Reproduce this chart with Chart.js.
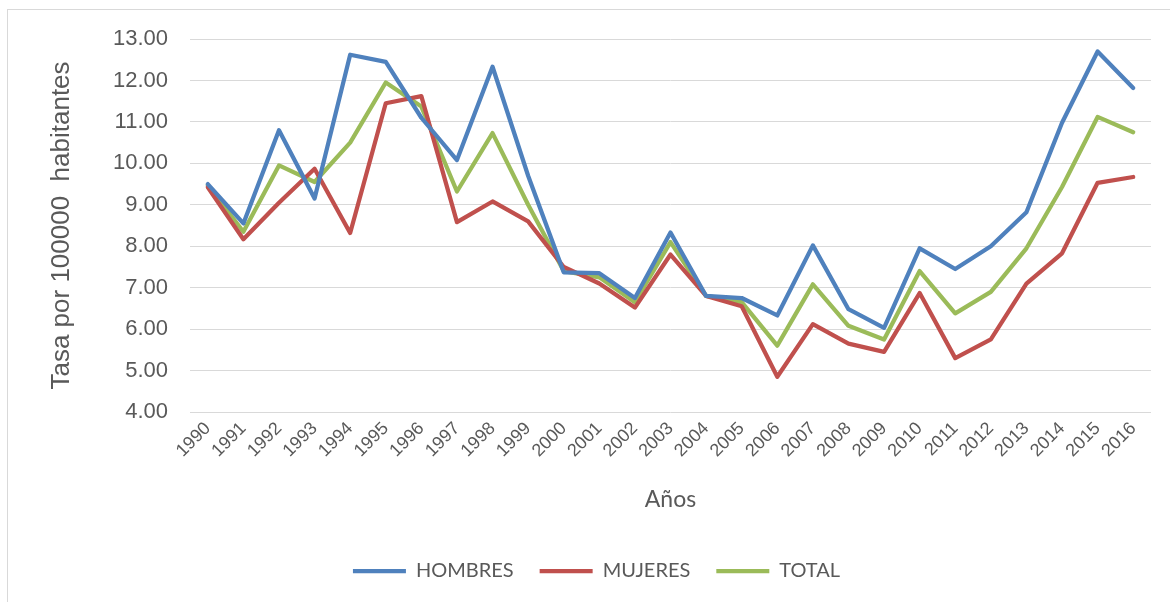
<!DOCTYPE html>
<html>
<head>
<meta charset="utf-8">
<script src="https://cdn.jsdelivr.net/npm/chart.js@4/dist/chart.umd.min.js"></script>
<style>
  html, body { margin: 0; padding: 0; background: #ffffff; overflow: hidden; }
  #wrap { position: relative; width: 1170px; height: 602px; }
  #frame { position: absolute; left: 7px; top: 9px; width: 1200px; height: 700px; border: 1px solid #d9d9d9; box-sizing: border-box; }
  canvas { position: absolute; left: 0; top: 0; }
</style>
</head>
<body>
<div id="wrap">
  <div id="frame"></div>
  <canvas id="c" width="1170" height="602"></canvas>
</div>
<script>
const years = ['1990','1991','1992','1993','1994','1995','1996','1997','1998','1999','2000','2001','2002','2003','2004','2005','2006','2007','2008','2009','2010','2011','2012','2013','2014','2015','2016'];
const hombres = [9.50, 8.55, 10.80, 9.15, 12.62, 12.45, 11.10, 10.08, 12.33, 9.70, 7.37, 7.35, 6.75, 8.33, 6.80, 6.75, 6.33, 8.02, 6.48, 6.03, 7.95, 7.45, 8.00, 8.82, 10.98, 12.70, 11.82];
const mujeres = [9.42, 8.17, 9.05, 9.87, 8.32, 11.45, 11.62, 8.58, 9.08, 8.60, 7.50, 7.10, 6.52, 7.80, 6.80, 6.55, 4.85, 6.12, 5.65, 5.45, 6.87, 5.30, 5.75, 7.10, 7.83, 9.53, 9.67];
const total = [9.47, 8.35, 9.95, 9.55, 10.50, 11.95, 11.37, 9.32, 10.73, 9.00, 7.40, 7.25, 6.65, 8.10, 6.80, 6.65, 5.60, 7.08, 6.08, 5.75, 7.40, 6.38, 6.90, 7.95, 9.43, 11.12, 10.75];
const seriesNames = ['HOMBRES', 'MUJERES', 'TOTAL'];
const seriesColors = ['#4f81bd', '#c0504d', '#9bbb59'];
const yTitle = 'Tasa por 100000  habitantes';
const xTitle = 'Años';

const textColor = '#595959';
const gridColor = '#d9d9d9';

function mk(label, data, color) {
  return {
    label: label,
    data: data,
    borderColor: color,
    backgroundColor: color,
    borderWidth: 4.25,
    pointRadius: 0,
    pointHoverRadius: 0,
    tension: 0,
    borderJoinStyle: 'round',
    borderCapStyle: 'round',
    pointStyle: 'line'
  };
}

new Chart(document.getElementById('c'), {
  type: 'line',
  data: {
    labels: years,
    datasets: [
      mk(seriesNames[0], hombres, seriesColors[0]),
      mk(seriesNames[1], mujeres, seriesColors[1]),
      mk(seriesNames[2], total, seriesColors[2])
    ]
  },
  options: {
    responsive: false,
    animation: false,
    devicePixelRatio: 1,
    layout: { padding: { left: 42, right: 19, top: 39, bottom: 11 } },
    plugins: {
      tooltip: { enabled: false },
      legend: {
        position: 'bottom',
        labels: {
          usePointStyle: true,
          pointStyle: 'line',
          pointStyleWidth: 53,
          padding: 26,
          color: textColor,
          font: { family: 'Lato, "Liberation Sans", sans-serif', size: 20 }
        }
      }
    },
    scales: {
      x: {
        type: 'category',
        offset: true,
        grid: { display: false, drawTicks: false },
        border: { display: false },
        ticks: {
          color: textColor,
          font: { family: '"Liberation Sans", Arial, sans-serif', size: 18 },
          minRotation: 45,
          maxRotation: 45,
          autoSkip: false,
          padding: 6
        },
        title: {
          display: true,
          text: xTitle,
          color: textColor,
          font: { family: 'Lato, "Liberation Sans", sans-serif', size: 23 },
          padding: { top: 4, bottom: 22 }
        },
        afterFit: function (s) { s.height = 123; }
      },
      y: {
        min: 4,
        max: 13,
        grid: { color: gridColor, lineWidth: 1, drawTicks: false },
        border: { display: false },
        ticks: {
          stepSize: 1,
          color: textColor,
          padding: 22,
          font: { family: '"Liberation Sans", Arial, sans-serif', size: 22 },
          callback: function (v) { return Number(v).toFixed(2); }
        },
        title: {
          display: true,
          text: yTitle,
          color: textColor,
          font: { family: '"Liberation Sans", Arial, sans-serif', size: 26 },
          padding: { top: 4, bottom: 4 }
        },
        afterFit: function (s) { s.width = 148; }
      }
    }
  }
});
</script>
</body>
</html>
